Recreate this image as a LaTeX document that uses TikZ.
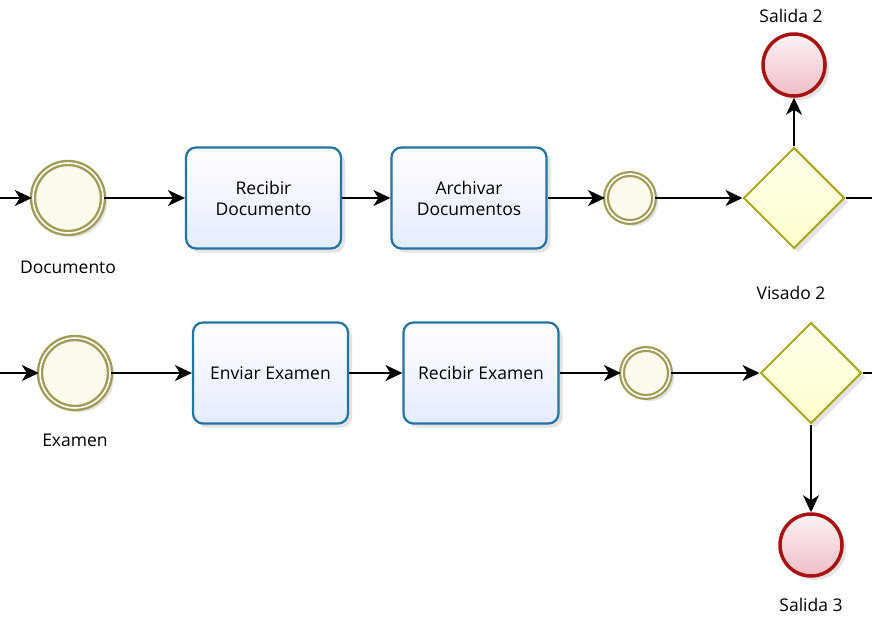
\documentclass[tikz,border=0pt]{standalone}
\usepackage{fontspec}
\setmainfont{Open Sans}
\usetikzlibrary{arrows.meta,shapes.geometric,shadows}
\definecolor{taskline}{RGB}{35,115,165}
\definecolor{taskfill}{RGB}{228,236,252}
\definecolor{evline}{RGB}{160,155,85}
\definecolor{evfill}{RGB}{254,251,238}
\definecolor{gwline}{RGB}{170,168,30}
\definecolor{gwfill}{RGB}{255,255,205}
\definecolor{endline}{RGB}{168,18,18}
\definecolor{endfill}{RGB}{238,190,198}
\tikzset{
  x=1pt, y=-1pt,
  every node/.style={font=\fontsize{17.5}{21}\selectfont},
  shad/.style={drop shadow={shadow xshift=4pt, shadow yshift=-4pt, opacity=0.18, fill=black!60}},
  task/.style={shad, rectangle, rounded corners=10pt, draw=taskline, line width=2.2pt,
    top color=white, bottom color=taskfill, minimum width=155pt, minimum height=101pt,
    align=center, inner sep=2pt},
  startev/.style={shad, circle, draw=evline, line width=2.4pt, double=white, double distance=1.6pt,
    fill=evfill, minimum size=70pt, inner sep=0pt},
  midev/.style={shad, circle, draw=evline, line width=2.2pt, double=white, double distance=1.6pt,
    fill=evfill, minimum size=48pt, inner sep=0pt},
  gate/.style={shad, diamond, aspect=1, draw=gwline, line width=2pt, top color=white!60!gwfill,
    bottom color=gwfill, minimum width=101pt, minimum height=101pt, inner sep=0pt},
  endev/.style={shad, circle, draw=endline, line width=3.5pt, top color=white!80!endfill,
    bottom color=endfill, minimum size=62pt, inner sep=0pt},
  flow/.style={line width=1.5pt, -{Stealth[length=17pt,width=16pt,inset=5pt]}},
  plain/.style={line width=1.5pt},
  lbl/.style={inner sep=0pt}
}
\begin{document}
\begin{tikzpicture}
\useasboundingbox (0,0) rectangle (872,618);
% top row
\coordinate (inA) at (0,198);
\node[startev] (sA) at (68,198) {};
\node[lbl] (sAl) at (68,267) {Documento};
\node[task] (t1) at (263.5,198) {Recibir\\Documento};
\node[task] (t2) at (469,198) {Archivar\\Documentos};
\node[midev] (mA) at (630,198) {};
\node[gate] (gA) at (794,198) {};
\node[endev] (eA) at (794,65) {};
\node[lbl] (eAl) at (791,16) {Salida 2};
\coordinate (outA) at (872,198);
% bottom row
\coordinate (inB) at (0,373);
\node[startev] (sB) at (75,373) {};
\node[lbl] (sBl) at (75,440) {Examen};
\node[task] (t3) at (270.5,373) {Enviar Examen};
\node[task] (t4) at (481,373) {Recibir Examen};
\node[midev] (mB) at (646,373) {};
\node[gate] (gB) at (811,373) {};
\node[lbl] (gBl) at (791,293) {Visado 2};
\node[endev] (eB) at (811,545) {};
\node[lbl] (eBl) at (811,605) {Salida 3};
\coordinate (outB) at (872,373);
% connectors
\draw[flow] (inA) -- (sA);
\draw[flow] (sA) -- (t1);
\draw[flow] (t1) -- (t2);
\draw[flow] (t2) -- (mA);
\draw[flow] (mA) -- (gA);
\draw[flow] (gA) -- (eA);
\draw[plain] (gA) -- (outA);
\draw[flow] (inB) -- (sB);
\draw[flow] (sB) -- (t3);
\draw[flow] (t3) -- (t4);
\draw[flow] (t4) -- (mB);
\draw[flow] (mB) -- (gB);
\draw[flow] (gB) -- (eB);
\draw[plain] (gB) -- (outB);
\end{tikzpicture}
\end{document}
